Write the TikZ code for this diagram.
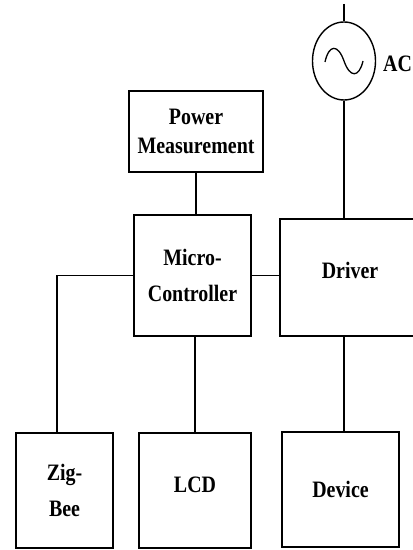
\documentclass[tikz,border=0pt]{standalone}
\usepackage{fontspec}
\usepackage{graphicx}
\setmainfont{Liberation Serif}
\usetikzlibrary{shapes.geometric}
% slightly tall bold lettering
\newcommand\tall[1]{\scalebox{1}[1.18]{#1}}
\begin{document}
\begin{tikzpicture}[x=1bp,y=-1bp,
  blk/.style={draw, line width=1.3bp, inner sep=0pt, align=center,
    font=\bfseries\fontsize{20}{36}\selectfont},
  wire/.style={line width=1.3bp},
  lbl/.style={font=\bfseries\fontsize{20}{24}\selectfont, inner sep=0pt}]
\useasboundingbox (0,0) rectangle (412,550);

% blocks
\node[blk, minimum width=134bp, minimum height=81bp,
      font=\bfseries\fontsize{20}{29}\selectfont]
  (pm) at (196,131.5) {\tall{Power}\\\tall{Measurement}};
\node[blk, minimum width=117bp, minimum height=121bp]
  (mc) at (192.5,275.5) {\tall{Micro-}\\\tall{Controller}};
\node[blk, minimum width=140bp, minimum height=117bp]
  (drv) at (350,277.5) {};
\node[lbl] (drvtxt) at ([yshift=7bp]drv.center) {\tall{Driver}};
\node[blk, minimum width=97bp, minimum height=115bp]
  (zb) at (64.5,490.5) {\tall{Zig-}\\\tall{Bee}};
\node[blk, minimum width=112bp, minimum height=115bp]
  (lcd) at (195,490.5) {};
\node[lbl] (lcdtxt) at ([yshift=6bp]lcd.center) {\tall{LCD}};
\node[blk, minimum width=117bp, minimum height=115bp]
  (dev) at (340.5,489.5) {\tall{Device}};

% AC source
\node[draw, ellipse, line width=1.4bp, minimum width=63bp, minimum height=78bp,
      inner sep=0pt] (ac) at (344,61) {};
\draw[wire] (325,62) .. controls (329,44) and (338,44) .. (344,61)
            .. controls (350,78) and (359,78) .. (363,61);
\node[lbl, anchor=base west] (aclbl) at (383,72) {\tall{AC}};
\coordinate (acin) at (344,4);

% connections
\draw[wire] (acin) -- (ac.north);
\draw[wire] (ac.south) -- (ac.south |- drv.north);
\draw[wire] (pm.south) -- (pm.south |- mc.north);
\draw[wire] (mc.east) -- (mc.east -| drv.west);
\coordinate (zbtop) at (57,433);
\draw[wire] (mc.west) -| (zbtop);
\draw[wire] (lcd.north |- mc.south) -- (lcd.north);
\draw[wire] (ac.south |- drv.south) -- (ac.south |- dev.north);
\end{tikzpicture}
\end{document}
